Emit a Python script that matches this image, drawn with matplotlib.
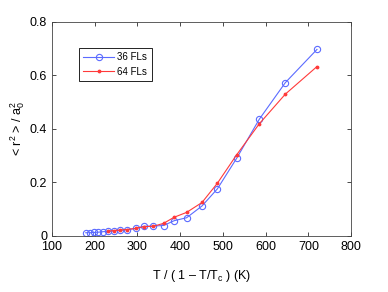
import matplotlib
matplotlib.use("Agg")
import matplotlib.pyplot as plt

plt.rcParams['font.family'] = ['Liberation Sans', 'DejaVu Sans']
plt.rcParams['mathtext.fontset'] = 'custom'
plt.rcParams['mathtext.rm'] = 'Liberation Sans'
plt.rcParams['mathtext.it'] = 'Liberation Sans'

# 36 FLs
t36 = [179, 189, 198, 208, 220, 232, 244, 259, 276, 296, 315, 337, 361,
       386, 415, 451, 487, 532, 585, 646, 720]
r36 = [0.012, 0.012, 0.013, 0.014, 0.016, 0.017, 0.019, 0.021, 0.024, 0.028,
       0.036, 0.037, 0.039, 0.057, 0.068, 0.112, 0.176, 0.290, 0.436, 0.573, 0.697]

# 64 FLs
t64 = [232, 244, 259, 276, 296, 315, 337, 361, 386, 415, 451, 487, 532,
       585, 646, 720]
r64 = [0.018, 0.020, 0.022, 0.024, 0.028, 0.035, 0.036, 0.047, 0.070, 0.088,
       0.125, 0.197, 0.303, 0.419, 0.530, 0.633]

fig = plt.figure(figsize=(3.88, 2.92), dpi=100)
ax = fig.add_axes([0.134, 0.192, 0.771, 0.733])

ax.plot(t36, r36, color='#5b6bff', marker='o', lw=0.8, ms=4.5, mfc='none', mew=0.8, label='36 FLs')
ax.plot(t64, r64, color='#ff3a3a', marker='.', lw=0.8, ms=3.5, label='64 FLs')

ax.set_xlim(100, 800)
ax.set_ylim(0, 0.8)
ax.set_xticks(range(100, 801, 100))
ax.set_yticks([0, 0.2, 0.4, 0.6, 0.8])
ax.set_yticklabels(['0', '0.2', '0.4', '0.6', '0.8'])
ax.tick_params(direction='in', top=True, right=True, labelsize=9, length=3, width=0.5)
for s in ax.spines.values():
    s.set_linewidth(0.6)
    s.set_color('#444444')

ax.set_xlabel(r'T / ( 1 – T/T$_\mathregular{c}$ ) (K)', fontsize=9, labelpad=11)
ax.set_ylabel(r'< r$^\mathregular{2}$ > / a$_\mathregular{0}^\mathregular{2}$', fontsize=9, labelpad=2)

leg = ax.legend(loc='upper left', bbox_to_anchor=(0.09, 0.88), fontsize=7, fancybox=False,
                framealpha=1, edgecolor='black', handlelength=3.2, borderpad=0.45,
                labelspacing=0.5, handletextpad=0.3, borderaxespad=0)
leg.get_frame().set_linewidth(0.6)

fig.savefig('out.png', dpi=100)
